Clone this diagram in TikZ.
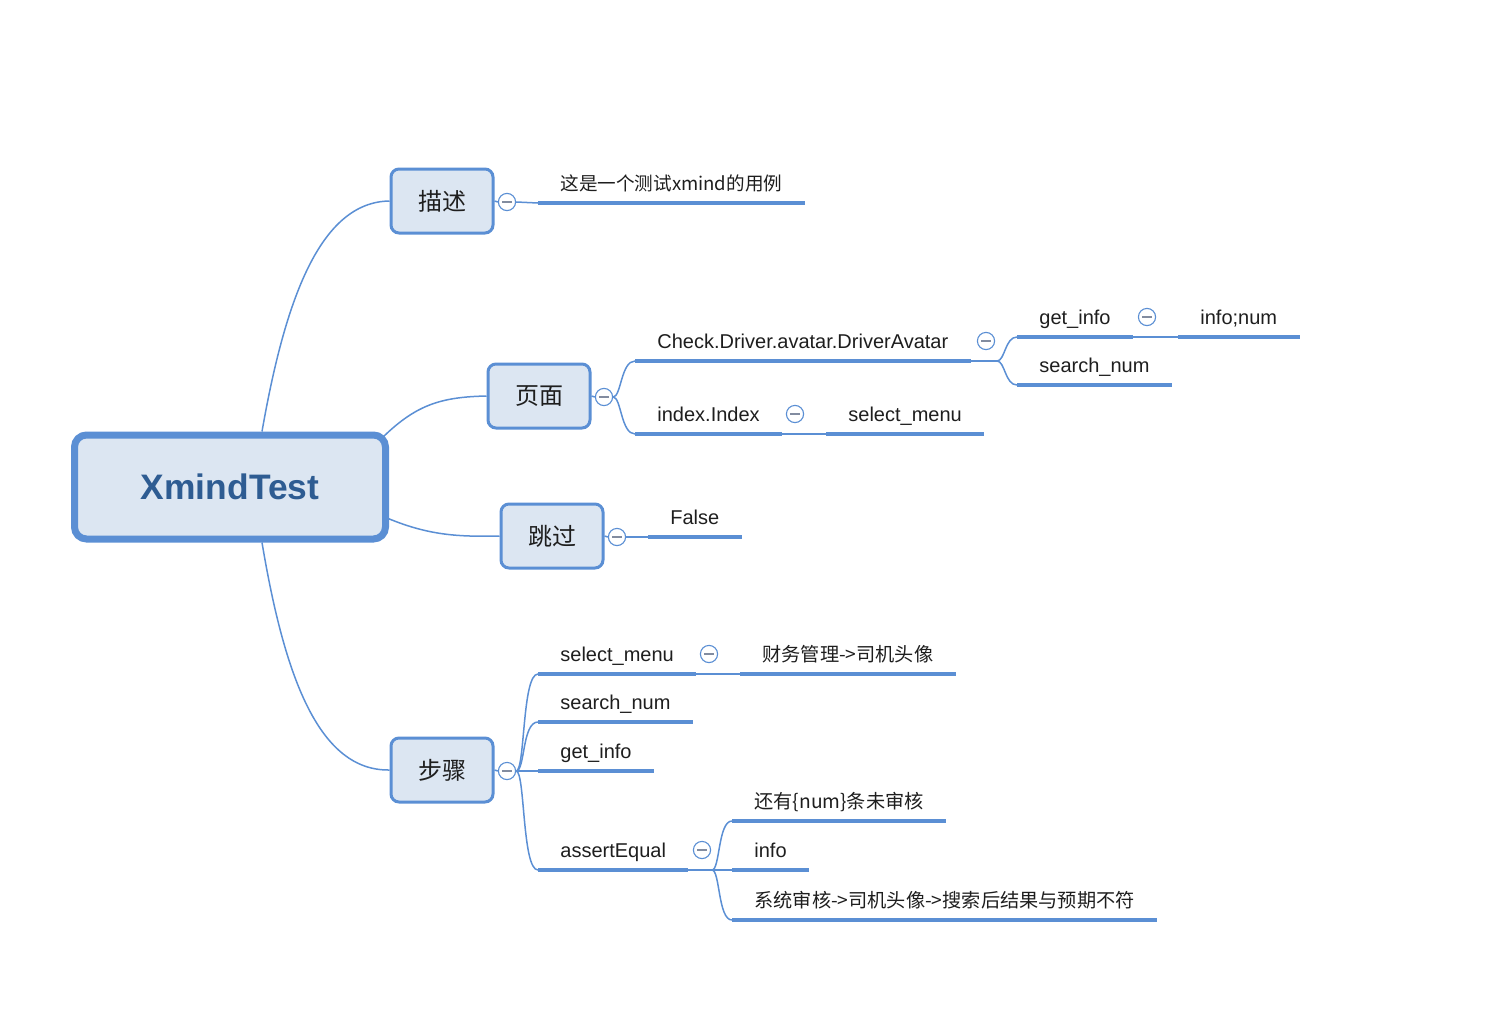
\documentclass[tikz,border=0pt]{standalone}
\usepackage{fontspec}
\setmainfont{Liberation Sans}
\newfontfamily\cjk{Noto Sans CJK SC}
\usetikzlibrary{backgrounds}
\definecolor{linecol}{RGB}{91,143,212}
\definecolor{nodefill}{RGB}{220,230,242}
\definecolor{roottext}{RGB}{46,92,146}
\definecolor{txt}{RGB}{30,30,30}
\definecolor{minuscol}{RGB}{130,140,160}
\begin{document}
\begin{tikzpicture}[x=0.5pt,y=-0.5pt,
  conn/.style={draw=linecol, line width=0.75pt},
  uline/.style={draw=linecol, line width=2pt},
  rootbox/.style={draw=linecol, line width=3.5pt, fill=nodefill, rounded corners=6pt,
    minimum width=155.5pt, minimum height=52pt, inner sep=0pt,
    font=\fontsize{17.7}{20}\selectfont\bfseries, text=roottext},
  branchbox/.style={draw=linecol, line width=1.5pt, fill=nodefill, rounded corners=4pt,
    minimum width=51pt, minimum height=32pt, inner sep=0pt,
    font=\cjk\fontsize{12}{14}\selectfont, text=txt},
  leaf/.style={anchor=south west, inner xsep=11pt, inner ysep=6pt,
    text height=7.5pt, text depth=0pt, font=\fontsize{10}{12}\selectfont, text=txt},
  cleaf/.style={leaf, font=\cjk\fontsize{9.6}{12}\selectfont},
  collapse/.style={circle, draw=linecol, line width=0.55pt, fill=white,
    minimum size=8.6pt, inner sep=0pt,
    path picture={\draw[minuscol, line width=0.6pt]
      ([xshift=-2.3pt]path picture bounding box.center) --
      ([xshift=2.3pt]path picture bounding box.center);}}
]
\useasboundingbox (0,0) rectangle (1500,1023);

% root and main branches
\node[rootbox] (root) at (230,487) {XmindTest};
\node[branchbox] (desc) at (442,201) {描述};
\node[branchbox] (page) at (539,396) {页面};
\node[branchbox] (skip) at (552,536) {跳过};
\node[branchbox] (steps) at (442,770) {步骤};

% collapse markers
\node[collapse] (cdesc) at (507,202) {};
\node[collapse] (cpage) at (604,397) {};
\node[collapse] (cskip) at (617,537) {};
\node[collapse] (csteps) at (507,771) {};
\node[collapse] (ccheck) at (986,341) {};
\node[collapse] (cget) at (1147,317) {};
\node[collapse] (cindex) at (795,414) {};
\node[collapse] (csel) at (709,654) {};
\node[collapse] (cassert) at (702,850) {};

% leaves
\node[cleaf, font=\cjk\fontsize{9.3}{12}\selectfont] (case) at (538,203) {这是一个测试xmind的用例};
\node[leaf] (check) at (635,361) {Check.Driver.avatar.DriverAvatar};
\node[leaf] (index) at (635,434) {index.Index};
\node[leaf] (getA) at (1017,337) {get\_info};
\node[leaf] (infonum) at (1178,337) {info;num};
\node[leaf] (searchA) at (1017,385) {search\_num};
\node[leaf] (selA) at (826,434) {select\_menu};
\node[leaf] (false) at (648,537) {False};
\node[leaf] (selB) at (538,674) {select\_menu};
\node[cleaf] (finance) at (740,674) {财务管理->司机头像};
\node[leaf] (searchB) at (538,722) {search\_num};
\node[leaf] (getB) at (538,771) {get\_info};
\node[leaf] (assert) at (538,870) {assertEqual};
\node[cleaf] (pending) at (732,821) {还有\{num\}条未审核};
\node[leaf] (info) at (732,870) {info};
\node[cleaf] (mismatch) at (732,920) {系统审核->司机头像->搜索后结果与预期不符};

\coordinate (bcheck) at (997,361);
\coordinate (bassert) at (712,870);

\foreach \n in {case,check,index,getA,infonum,searchA,selA,false,selB,finance,searchB,getB,assert,pending,info,mismatch}
  \draw[uline] (\n.south west) -- (\n.south east);

\begin{scope}[on background layer]
  % root connectors
  \draw[conn] ([xshift=16pt]root.north) .. controls (285,300) and (320,202) .. (desc.west);
  \draw[conn] (380,440) .. controls (415,405) and (440,397) .. (page.west);
  \draw[conn] (380,515) .. controls (425,535) and (455,537) .. (skip.west);
  \draw[conn] ([xshift=16pt]root.south) .. controls (285,680) and (320,771) .. (steps.west);
  % branch to markers
  \draw[conn] (desc.east) -- (cdesc.west);
  \draw[conn] (page.east) -- (cpage.west);
  \draw[conn] (skip.east) -- (cskip.west);
  \draw[conn] (steps.east) -- (csteps.west);
  % 描述
  \draw[conn] (cdesc.east) -- (case.south west);
  % 页面
  \draw[conn] (cpage.east) .. controls +(8,0) and +(-14,0) .. (check.south west);
  \draw[conn] (cpage.east) .. controls +(8,0) and +(-14,0) .. (index.south west);
  \draw[conn] (check.south east) -- (bcheck);
  \draw[conn] (bcheck) .. controls +(8,0) and +(-12,0) .. (getA.south west);
  \draw[conn] (bcheck) .. controls +(8,0) and +(-12,0) .. (searchA.south west);
  \draw[conn] (getA.south east) -- (infonum.south west);
  \draw[conn] (index.south east) -- (selA.south west);
  % 跳过
  \draw[conn] (cskip.east) -- (false.south west);
  % 步骤
  \draw[conn] (csteps.east) .. controls +(9,0) and +(-16,0) .. (selB.south west);
  \draw[conn] (csteps.east) .. controls +(9,0) and +(-16,0) .. (searchB.south west);
  \draw[conn] (csteps.east) -- (getB.south west);
  \draw[conn] (csteps.east) .. controls +(9,0) and +(-16,0) .. (assert.south west);
  \draw[conn] (selB.south east) -- (finance.south west);
  \draw[conn] (assert.south east) -- (bassert);
  \draw[conn] (bassert) .. controls +(8,0) and +(-14,0) .. (pending.south west);
  \draw[conn] (bassert) -- (info.south west);
  \draw[conn] (bassert) .. controls +(8,0) and +(-14,0) .. (mismatch.south west);
\end{scope}
\end{tikzpicture}
\end{document}
